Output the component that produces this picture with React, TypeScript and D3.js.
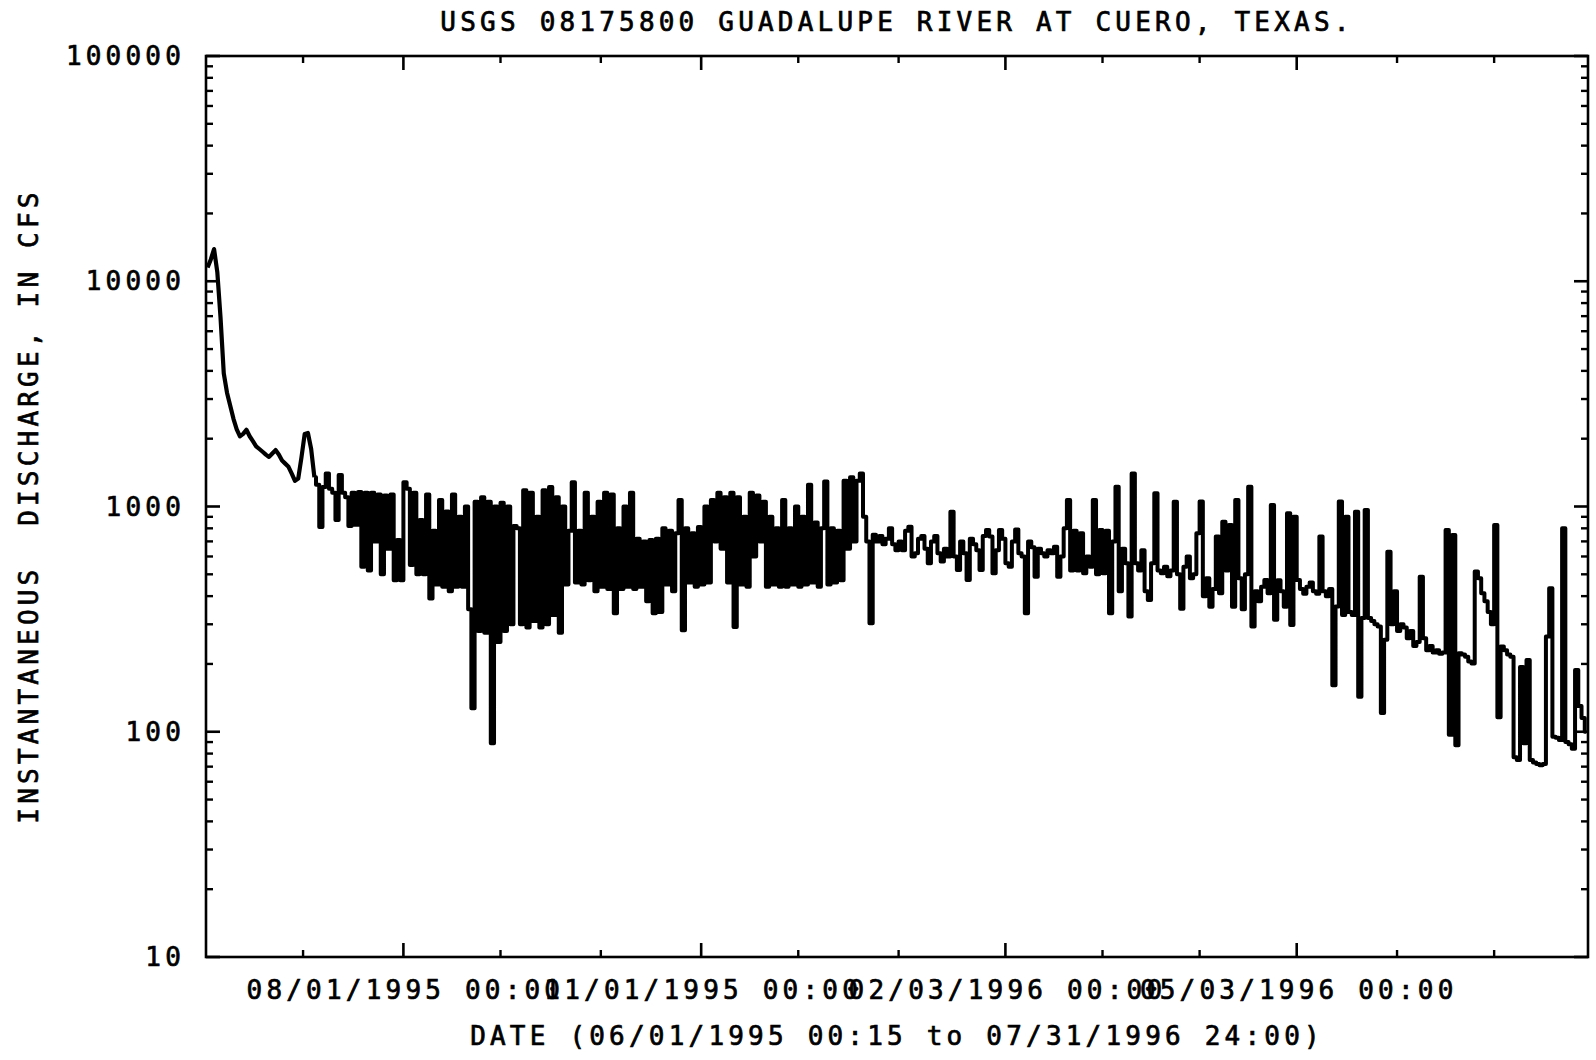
import React from 'react';
import * as d3 from 'd3';

const chartTitle = 'USGS 08175800 GUADALUPE RIVER AT CUERO, TEXAS.';
const yAxisTitle = 'INSTANTANEOUS  DISCHARGE, IN CFS';
const xAxisTitle = 'DATE (06/01/1995 00:15 to 07/31/1996 24:00)';

const periodStart = new Date(1995, 5, 1, 0, 15);
const periodEnd = new Date(1996, 7, 1, 0, 0);

const majorTickDates = [new Date(1995, 7, 1), new Date(1995, 10, 1), new Date(1996, 1, 3), new Date(1996, 4, 3)];
const majorTickLabels = ['08/01/1995 00:00', '11/01/1995 00:00', '02/03/1996 00:00', '05/03/1996 00:00'];
const minorTickDates = [
  new Date(1995, 6, 1), new Date(1995, 7, 31), new Date(1995, 9, 1), new Date(1995, 11, 1),
  new Date(1996, 0, 1), new Date(1996, 2, 4), new Date(1996, 3, 3), new Date(1996, 5, 3), new Date(1996, 6, 3),
];
const yTickValues = [10, 100, 1000, 10000, 100000];
const yTickLabels = ['10', '100', '1000', '10000', '100000'];

// discharge in cfs, one reading per day, month by month
const jun95 = [11500, 12500, 13900, 11000, 6900, 3900, 3200, 2800, 2450, 2200, 2050, 2100, 2190, 2050, 1950, 1850, 1800, 1750, 1700, 1660, 1720, 1780, 1700, 1600, 1550, 1500, 1400, 1300, 1330, 1650];
const jul95 = [2100, 2120, 1800, 1350, 1250, 810, 1220, 1400, 1200, 1150, 870, 1380, 1150, 1100, 820, 1150, 830, 1160, 540, 1150, 520, 1150, 700, 1130, 500, 1120, 650, 1130, 470, 710, 470];
const aug95 = [1280, 1200, 550, 1150, 500, 870, 500, 1130, 390, 780, 450, 1070, 440, 950, 420, 1130, 440, 900, 440, 1000, 350, 127, 1050, 280, 1100, 275, 1050, 89, 1000, 250, 1040];
const sep95 = [280, 1000, 300, 820, 800, 300, 1180, 290, 1150, 310, 900, 290, 1180, 300, 1220, 330, 1100, 275, 1000, 450, 780, 1280, 460, 780, 450, 1150, 470, 900, 420, 1050];
const oct95 = [440, 1150, 430, 1130, 336, 800, 430, 1000, 440, 1150, 430, 720, 440, 700, 380, 710, 336, 720, 340, 800, 450, 780, 420, 760, 1070, 282, 800, 460, 760, 440, 810];
const nov95 = [450, 1000, 460, 1070, 700, 1150, 650, 1100, 460, 1150, 292, 1100, 450, 900, 440, 1150, 600, 1120, 700, 1050, 440, 900, 450, 800, 440, 1070, 440, 800, 450, 1000];
const dec95 = [440, 900, 450, 1250, 460, 850, 440, 800, 1290, 450, 800, 460, 780, 470, 1300, 650, 1350, 700, 1300, 1400, 900, 700, 303, 750, 700, 740, 680, 720, 800, 680, 640];
const jan96 = [700, 640, 780, 813, 600, 620, 720, 740, 650, 560, 700, 740, 620, 570, 650, 600, 948, 600, 523, 700, 620, 472, 720, 680, 640, 523, 740, 786, 735, 505, 640];
const feb96 = [786, 720, 560, 540, 700, 790, 620, 600, 336, 700, 660, 488, 650, 620, 600, 640, 620, 663, 488, 600, 800, 1069, 520, 780, 520, 760, 505, 600, 540];
const mar96 = [1069, 500, 786, 505, 780, 336, 700, 1224, 420, 650, 560, 325, 1403, 560, 520, 640, 420, 385, 560, 1145, 520, 505, 540, 490, 520, 1050, 500, 352, 540, 600, 480];
const apr96 = [500, 760, 1052, 400, 480, 359, 430, 735, 412, 855, 520, 828, 359, 1069, 480, 350, 500, 1224, 293, 420, 380, 440, 472, 412, 1015, 314, 470, 420, 359, 933];
const may96 = [298, 900, 472, 430, 410, 440, 460, 420, 410, 735, 420, 400, 430, 161, 360, 1052, 330, 900, 340, 330, 948, 143, 320, 966, 320, 310, 300, 293, 121, 256, 630];
const jun96 = [300, 420, 280, 300, 290, 260, 280, 240, 250, 488, 260, 230, 240, 225, 230, 222, 225, 786, 97, 748, 87, 223, 220, 215, 205, 201, 514, 480, 412, 380];
const jul96 = [340, 300, 828, 116, 239, 230, 220, 215, 77, 75, 194, 89, 208, 75, 73, 72, 71, 72, 265, 434, 95, 94, 92, 800, 90, 88, 84, 188, 130, 115, 100];

const dailyFlow = [
  ...jun95, ...jul95, ...aug95, ...sep95, ...oct95, ...nov95, ...dec95,
  ...jan96, ...feb96, ...mar96, ...apr96, ...may96, ...jun96, ...jul96,
];

const left = 206;
const right = 1588;
const top = 56;
const bottom = 957;
const font = "'DejaVu Sans Mono', monospace";

const App = () => {
  const x = d3.scaleTime().domain([periodStart, periodEnd]).range([left, right]);
  const y = d3.scaleLog().domain([10, 100000]).range([bottom, top]);

  const points: [Date, number][] = dailyFlow.map((v, i) => [new Date(1995, 5, 1 + i, 12), v]);
  // the first weeks are a smooth recession, the rest is drawn as a stepped trace
  const smoothPart = points.slice(0, 34);
  const stepPart = points.slice(33);
  const smoothLine = d3.line<[Date, number]>()
    .x(d => x(d[0]))
    .y(d => y(d[1]));
  const stepLine = d3.line<[Date, number]>()
    .x(d => x(d[0]))
    .y(d => y(d[1]))
    .curve(d3.curveStep);

  const yMinor: number[] = [];
  for (let k = 1; k <= 4; k++) {
    for (let m = 2; m <= 9; m++) yMinor.push(m * Math.pow(10, k));
  }

  const textStyle = {
    fontFamily: font, fontSize: 26, letterSpacing: 4.2,
    stroke: '#000', strokeWidth: 0.7,
  };

  return (
    <svg width={1596} height={1060} style={{ position: 'absolute', left: 0, top: 0, background: '#fff' }}>
      <rect x={0} y={0} width={1596} height={1060} fill="#fff" />
      <text x={(left + right) / 2} y={31} textAnchor="middle" {...textStyle}>{chartTitle}</text>

      <path d={smoothLine(smoothPart) || ''} fill="none" stroke="#000" strokeWidth={4.2} strokeLinejoin="round" />
      <path d={stepLine(stepPart) || ''} fill="none" stroke="#000" strokeWidth={4} strokeLinejoin="round" />

      <rect x={left} y={top} width={right - left} height={bottom - top} fill="none" stroke="#000" strokeWidth={2.6} />

      {yTickValues.map(v => (
        <g key={'ym' + v}>
          <line x1={left} x2={left + 14} y1={y(v)} y2={y(v)} stroke="#000" strokeWidth={2.6} />
          <line x1={right} x2={right - 14} y1={y(v)} y2={y(v)} stroke="#000" strokeWidth={2.6} />
        </g>
      ))}
      {yMinor.map(v => (
        <g key={'yn' + v}>
          <line x1={left} x2={left + 7} y1={y(v)} y2={y(v)} stroke="#000" strokeWidth={2.4} />
          <line x1={right} x2={right - 7} y1={y(v)} y2={y(v)} stroke="#000" strokeWidth={2.4} />
        </g>
      ))}
      {majorTickDates.map((d, i) => (
        <g key={'xm' + i}>
          <line x1={x(d)} x2={x(d)} y1={bottom} y2={bottom - 14} stroke="#000" strokeWidth={2.6} />
          <line x1={x(d)} x2={x(d)} y1={top} y2={top + 14} stroke="#000" strokeWidth={2.6} />
        </g>
      ))}
      {minorTickDates.map((d, i) => (
        <g key={'xn' + i}>
          <line x1={x(d)} x2={x(d)} y1={bottom} y2={bottom - 7} stroke="#000" strokeWidth={2.4} />
          <line x1={x(d)} x2={x(d)} y1={top} y2={top + 7} stroke="#000" strokeWidth={2.4} />
        </g>
      ))}

      {yTickValues.map((v, i) => (
        <text key={'yl' + v} x={185} y={y(v) + 9} textAnchor="end" {...textStyle}>{yTickLabels[i]}</text>
      ))}
      {majorTickDates.map((d, i) => (
        <text key={'xl' + i} x={x(d) + 2} y={999} textAnchor="middle" {...textStyle}>{majorTickLabels[i]}</text>
      ))}

      <text x={(left + right) / 2} y={1045} textAnchor="middle" {...textStyle}>{xAxisTitle}</text>
      <text
        transform={`translate(38, 506) rotate(-90)`}
        textAnchor="middle"
        style={{ whiteSpace: 'pre' }}
        {...textStyle}
      >
        {yAxisTitle}
      </text>
    </svg>
  );
};

export default App;
